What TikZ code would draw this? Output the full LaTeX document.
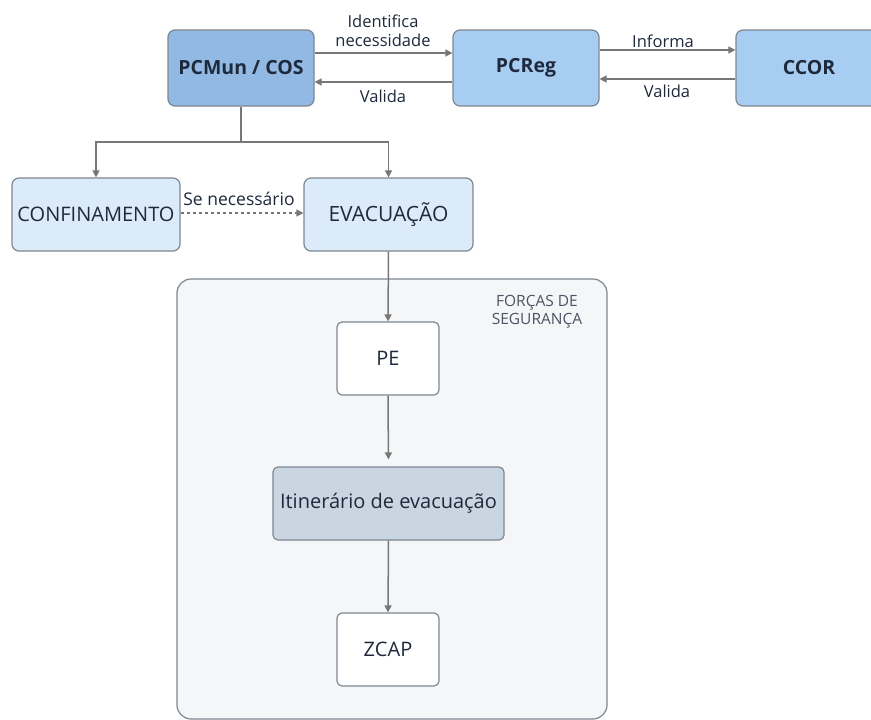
\documentclass[tikz,border=0pt]{standalone}
\usepackage{fontspec}
\setmainfont{Open Sans}
\usetikzlibrary{arrows.meta}
\definecolor{darkblue}{HTML}{92B9E3}
\definecolor{midblue}{HTML}{A8CDF3}
\definecolor{paleblue}{HTML}{DCEBF9}
\definecolor{greyblue}{HTML}{C9D5E1}
\definecolor{panel}{HTML}{F4F6F8}
\definecolor{edge}{HTML}{7F8790}
\definecolor{ink}{HTML}{1E2A3C}
\definecolor{wire}{HTML}{777777}
\begin{document}
\begin{tikzpicture}[x=1pt, y=-1pt,
  box/.style = {draw=edge, line width=1.2pt, rounded corners=7pt, inner sep=0pt,
    text=ink, minimum width=146pt, minimum height=76pt},
  top/.style = {box, font=\fontsize{19.5}{22}\selectfont\bfseries},
  sub/.style = {box, fill=paleblue, minimum width=168pt, minimum height=73pt,
    font=\fontsize{20}{23}\selectfont},
  step box/.style = {box, fill=white, minimum width=102pt, minimum height=73pt,
    rounded corners=5pt, font=\fontsize{20}{23}\selectfont},
  lbl/.style = {text=ink, font=\fontsize{16.5}{19}\selectfont, align=center},
  arr/.style = {draw=wire, line width=1.5pt, -{Triangle[length=7pt, width=7pt]}}]
	\useasboundingbox[fill=white] (0,0) rectangle (871,720);
	% container of the security forces
	\node[draw=edge, line width=1.2pt, fill=panel, rounded corners=14pt,
	  minimum width=430pt, minimum height=440pt] (forces) at (392,499){};
	\node[text=ink!80, font=\fontsize{15.5}{18}\selectfont, align=center] (forceslbl) at (537,312){FORÇAS DE\\SEGURANÇA};
	\node[top, fill=darkblue] (pcmun) at (241,68){PCMun / COS};
	\node[top, fill=midblue] (pcreg) at (526,68){PCReg};
	\node[top, fill=midblue] (ccor) at (809,68){CCOR};
	\node[sub] (confin) at (96,214.5){CONFINAMENTO};
	\node[sub, minimum width=169pt, font=\fontsize{21}{24}\selectfont] (evac) at (388.5,214.5){EVACUAÇÃO};
	\node[step box] (pe) at (388,358.5){PE};
	\node[step box, fill=greyblue, minimum width=231pt] (itin) at (388.5,503.5){Itinerário de evacuação};
	\node[step box] (zcap) at (388,649.5){ZCAP};
	\coordinate (split) at (241,142);
	\draw[arr] ([yshift=15pt]pcmun.east) -- ([yshift=15pt]pcreg.west);
	\draw[arr] ([yshift=-14pt]pcreg.west) -- ([yshift=-14pt]pcmun.east);
	\draw[arr] ([yshift=18pt]pcreg.east) -- ([yshift=18pt]ccor.west);
	\draw[arr] ([yshift=-11pt]ccor.west) -- ([yshift=-11pt]pcreg.east);
	\node[lbl] (ident) at (383,31){Identifica\\necessidade};
	\node[lbl] (val1) at (383,96){Valida};
	\node[lbl] (inform) at (663,41){Informa};
	\node[lbl] (val2) at (667,91){Valida};
	\draw[draw=wire, line width=1.5pt] (pcmun.south) -- (split);
	\draw[arr] (split) -| (confin.north);
	\draw[arr] (split) -| (evac.north);
	\draw[arr, dashed, line width=1.2pt] ([yshift=1.5pt]confin.east) -- ([yshift=1.5pt]evac.west);
	\node[lbl, font=\fontsize{17.5}{20}\selectfont] (senec) at (239,199){Se necessário};
	\draw[arr] (evac.south) -- (pe.north);
	\draw[arr, shorten >=7pt] (pe.south) -- (itin.north);
	\draw[arr] (itin.south) -- (zcap.north);
\end{tikzpicture}
\end{document}
